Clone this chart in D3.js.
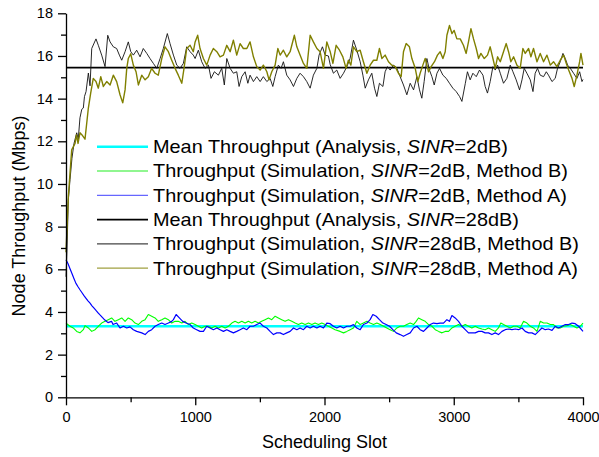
<!DOCTYPE html>
<html>
<head>
<meta charset="utf-8">
<script src="https://cdn.jsdelivr.net/npm/d3@7"></script>
<style>
  body { margin: 0; background: #fff; }
  text { font-family: "Liberation Sans", Arial, sans-serif; fill: #000; }
</style>
</head>
<body>
<div id="chart"></div>
<script>
// valeurs : [slot, débit Mbps]
const meanSinr2 = 3.33;
const meanSinr28 = 15.45;

const simB2 = [[0,3.48],[31,3.33],[56,3.25],[83,3.09],[108,3.02],[134,3.17],[147,3.36],[173,3.25],[199,3.09],[225,3.17],[250,3.33],[276,3.48],[302,3.56],[327,3.64],[353,3.72],[379,3.56],[405,3.64],[431,3.72],[457,3.56],[482,3.72],[508,3.64],[534,3.48],[560,3.41],[586,3.56],[612,3.64],[637,3.88],[663,3.8],[689,3.72],[714,3.56],[741,3.64],[766,3.72],[792,3.64],[818,3.48],[844,3.56],[869,3.56],[896,3.48],[921,3.56],[947,3.41],[973,3.48],[999,3.41],[1024,3.33],[1050,3.25],[1076,3.33],[1102,3.33],[1128,3.25],[1153,3.33],[1179,3.25],[1205,3.33],[1231,3.25],[1257,3.33],[1283,3.48],[1308,3.56],[1334,3.48],[1360,3.56],[1386,3.48],[1411,3.56],[1437,3.48],[1463,3.56],[1489,3.48],[1514,3.56],[1540,3.64],[1566,3.72],[1592,3.64],[1618,3.8],[1643,3.72],[1669,3.64],[1695,3.56],[1721,3.64],[1747,3.56],[1773,3.48],[1798,3.41],[1824,3.48],[1850,3.41],[1876,3.48],[1902,3.41],[1927,3.48],[1953,3.41],[1979,3.48],[2005,3.41],[2030,3.33],[2057,3.25],[2082,3.17],[2121,3.09],[2147,3.02],[2173,3.09],[2198,3.17],[2224,3.25],[2250,3.56],[2276,3.41],[2301,3.48],[2328,3.56],[2353,3.48],[2379,3.41],[2405,3.48],[2431,3.41],[2457,3.33],[2482,3.25],[2508,3.17],[2534,3.09],[2560,3.25],[2585,3.33],[2611,3.33],[2637,3.41],[2663,3.48],[2689,3.41],[2709,3.56],[2727,3.72],[2753,3.64],[2779,3.56],[2805,3.41],[2831,3.33],[2857,3.17],[2883,3.09],[2909,3.02],[2934,3.09],[2960,3.09],[2986,3.25],[3011,3.33],[3037,3.41],[3063,3.33],[3089,3.41],[3114,3.33],[3140,3.25],[3166,3.33],[3192,3.25],[3218,3.2],[3243,3.17],[3269,3.25],[3295,3.17],[3321,3.09],[3346,3.25],[3364,3.48],[3385,3.41],[3411,3.33],[3437,3.25],[3463,3.33],[3489,3.33],[3514,3.25],[3540,3.56],[3566,3.48],[3592,3.33],[3617,3.25],[3644,3.09],[3669,3.56],[3695,3.48],[3721,3.48],[3747,3.41],[3772,3.41],[3798,3.25],[3824,3.25],[3850,3.33],[3876,3.36],[3902,3.41],[3927,3.33],[3953,3.25],[3979,3.33],[4000,3.48]];

const simA2 = [[0,6.45],[15,6.27],[31,6.03],[46,5.8],[62,5.56],[77,5.34],[93,5.18],[108,5.04],[124,4.9],[139,4.77],[155,4.64],[170,4.52],[186,4.41],[201,4.29],[217,4.18],[232,4.07],[248,3.96],[263,3.86],[279,3.76],[294,3.66],[310,3.58],[325,3.5],[352,3.56],[364,3.41],[392,3.48],[418,3.25],[444,3.33],[470,3.25],[495,3.3],[521,3.17],[547,3.09],[586,3.02],[612,2.94],[637,3.09],[663,3.17],[689,3.33],[714,3.41],[741,3.48],[766,3.41],[792,3.48],[818,3.56],[831,3.64],[852,3.88],[877,3.72],[903,3.56],[929,3.48],[960,3.41],[985,3.25],[1011,3.17],[1037,3.09],[1063,3.09],[1089,3.33],[1115,3.25],[1140,3.17],[1167,3.25],[1192,3.17],[1218,3.09],[1244,3.17],[1270,3.09],[1295,3.02],[1321,3.09],[1347,3.17],[1372,3.25],[1399,3.17],[1424,3.33],[1450,3.33],[1476,3.41],[1502,3.48],[1527,3.33],[1554,3.25],[1579,3.09],[1605,2.94],[1631,3.02],[1657,3.02],[1682,2.94],[1708,3.02],[1734,3.09],[1760,3.25],[1786,3.17],[1811,3.25],[1837,3.17],[1863,3.33],[1889,3.25],[1914,3.33],[1941,3.25],[1966,3.33],[1992,3.25],[2018,3.48],[2044,3.45],[2069,3.33],[2095,3.25],[2121,3.33],[2147,3.25],[2173,3.33],[2198,3.33],[2224,3.41],[2250,3.25],[2276,3.17],[2301,3.41],[2328,3.48],[2353,3.64],[2374,3.88],[2400,3.8],[2425,3.64],[2452,3.48],[2477,3.41],[2503,3.33],[2529,3.17],[2555,3.02],[2585,2.94],[2611,2.86],[2637,2.94],[2663,3.02],[2689,3.25],[2715,3.33],[2740,3.17],[2766,3.09],[2792,3.25],[2818,3.41],[2843,3.48],[2870,3.45],[2895,3.48],[2921,3.48],[2947,3.64],[2967,3.56],[2986,3.83],[3011,3.72],[3037,3.56],[3063,3.33],[3089,3.17],[3114,3.02],[3140,3.02],[3166,3.02],[3192,3.09],[3218,3.09],[3243,3.02],[3269,3.02],[3295,2.94],[3321,3.02],[3346,2.94],[3373,3.09],[3398,3.17],[3424,3.2],[3450,3.17],[3476,3.2],[3501,3.17],[3528,3.25],[3553,3.09],[3579,3.02],[3605,3.02],[3630,2.94],[3656,3.09],[3682,3.25],[3708,3.17],[3733,3.2],[3760,3.14],[3785,3.33],[3811,3.25],[3837,3.33],[3863,3.41],[3889,3.41],[3915,3.48],[3940,3.45],[3966,3.33],[4000,3.09]];

const simB28 = [[0,5.65],[8,7.0],[18,9.25],[31,10.2],[46,11.2],[62,11.9],[83,12.4],[95,12.1],[108,13.1],[122,13.5],[134,13.56],[143,14.1],[155,14.33],[173,15.2],[186,14.6],[199,16.35],[232,16.8],[250,16.5],[276,16.04],[302,15.5],[323,16.97],[341,16.66],[366,16.43],[392,16.35],[413,16.04],[431,15.8],[457,16.2],[482,16.66],[501,16.2],[521,16.04],[547,16.27],[573,15.96],[598,16.35],[625,16.12],[650,15.88],[676,15.65],[702,15.42],[728,15.88],[753,16.35],[784,17.05],[805,16.58],[831,16.04],[857,15.57],[882,15.42],[908,15.65],[934,16.43],[960,16.2],[985,16.04],[999,15.88],[1024,16.27],[1050,15.73],[1076,15.42],[1102,15.57],[1122,14.95],[1148,15.26],[1179,15.1],[1205,15.42],[1225,14.64],[1244,15.88],[1270,15.42],[1295,15.19],[1321,15.26],[1339,14.57],[1360,15.03],[1386,15.26],[1407,14.72],[1424,15.1],[1450,14.8],[1476,15.03],[1502,14.8],[1527,15.03],[1554,14.8],[1579,14.95],[1600,14.57],[1618,15.03],[1643,15.57],[1664,15.42],[1682,15.73],[1708,15.1],[1734,14.88],[1760,14.57],[1786,14.95],[1811,15.19],[1837,15.03],[1863,14.8],[1889,14.49],[1914,15.1],[1941,15.42],[1958,16.04],[1984,16.43],[2005,16.04],[2030,16.0],[2044,15.6],[2069,15.19],[2095,15.34],[2121,14.95],[2147,15.19],[2173,15.5],[2198,15.88],[2224,16.74],[2250,16.27],[2276,15.73],[2297,15.1],[2315,14.49],[2340,14.88],[2366,15.19],[2387,14.49],[2405,14.1],[2425,14.72],[2452,14.57],[2469,15.26],[2487,15.5],[2508,15.34],[2534,15.57],[2560,15.42],[2585,15.03],[2611,14.64],[2637,14.18],[2663,14.72],[2689,14.41],[2715,15.03],[2735,14.41],[2753,14.02],[2771,14.8],[2792,15.88],[2812,15.34],[2831,15.03],[2849,14.64],[2870,15.19],[2890,15.42],[2916,15.1],[2942,14.95],[2967,14.72],[2993,14.49],[3019,14.33],[3045,14.1],[3063,13.87],[3089,14.7],[3106,15.26],[3127,14.88],[3148,15.19],[3174,15.03],[3199,15.34],[3226,15.1],[3243,14.57],[3261,14.26],[3282,14.8],[3303,15.5],[3321,15.34],[3339,15.57],[3360,15.19],[3385,14.72],[3411,14.95],[3437,15.57],[3458,15.26],[3483,14.88],[3509,14.41],[3528,14.88],[3545,15.42],[3566,15.19],[3592,14.88],[3613,14.33],[3630,15.19],[3648,15.42],[3669,15.1],[3695,15.03],[3716,15.26],[3733,15.1],[3760,14.8],[3785,14.95],[3803,15.42],[3824,15.73],[3845,16.12],[3863,15.88],[3881,15.57],[3902,15.42],[3927,15.19],[3953,14.95],[3974,15.26],[3992,14.8],[4000,14.9]];

const simA28 = [[0,6.8],[18,9.4],[44,11.6],[70,11.9],[81,12.3],[93,11.9],[108,12.4],[124,12.3],[147,12.1],[163,13.0],[173,13.56],[191,14.26],[211,14.95],[232,14.8],[250,14.49],[269,15.03],[289,14.57],[315,14.8],[341,14.64],[366,15.1],[392,14.8],[418,14.18],[439,13.8],[457,14.41],[470,15.42],[482,15.88],[501,16.1],[521,15.57],[542,15.26],[560,14.64],[586,15.1],[612,14.88],[637,15.03],[663,15.42],[689,15.19],[714,15.1],[741,15.88],[766,16.43],[792,16.2],[818,15.8],[844,15.42],[869,15.1],[896,14.72],[913,15.42],[934,16.35],[960,16.5],[985,16.2],[999,16.66],[1019,16.97],[1037,16.35],[1063,15.88],[1089,15.57],[1115,16.04],[1140,16.35],[1167,16.2],[1192,15.96],[1218,16.04],[1244,16.5],[1270,16.2],[1295,16.74],[1321,16.04],[1347,16.58],[1372,16.35],[1399,16.35],[1424,16.66],[1450,15.96],[1476,15.5],[1502,15.34],[1527,15.57],[1554,15.26],[1571,14.88],[1592,15.26],[1618,15.57],[1639,16.35],[1657,16.04],[1682,16.27],[1708,15.96],[1734,16.2],[1767,16.97],[1786,16.43],[1811,16.04],[1837,15.65],[1863,15.42],[1889,16.97],[1914,16.66],[1941,16.35],[1966,16.2],[1992,15.42],[2018,16.66],[2044,16.2],[2065,15.65],[2090,16.5],[2116,16.27],[2142,15.96],[2167,15.42],[2185,15.8],[2204,15.57],[2224,16.43],[2250,16.2],[2276,16.27],[2301,15.73],[2328,15.19],[2353,15.57],[2379,15.8],[2405,15.8],[2425,16.35],[2444,15.88],[2469,16.04],[2495,15.73],[2521,15.57],[2547,15.5],[2572,15.19],[2593,15.03],[2611,16.2],[2632,16.58],[2657,16.43],[2676,15.88],[2702,15.42],[2722,14.8],[2740,15.19],[2761,15.57],[2779,15.88],[2805,15.26],[2825,15.5],[2851,15.73],[2874,16.04],[2895,16.2],[2916,15.88],[2934,16.2],[2947,16.97],[2967,17.43],[2986,17.05],[3003,17.2],[3024,16.8],[3050,16.8],[3075,16.5],[3096,16.12],[3114,16.66],[3133,17.28],[3153,16.8],[3174,16.35],[3192,15.88],[3210,16.12],[3236,15.88],[3261,16.04],[3282,16.43],[3303,15.88],[3321,15.42],[3339,15.96],[3360,15.73],[3385,16.2],[3406,16.58],[3424,16.2],[3442,15.73],[3463,15.96],[3489,15.57],[3514,15.42],[3535,16.35],[3553,16.12],[3579,16.35],[3597,15.96],[3617,16.35],[3644,15.73],[3669,16.12],[3695,15.73],[3721,16.04],[3747,15.57],[3772,15.73],[3798,15.5],[3824,15.8],[3850,16.04],[3871,15.65],[3889,15.34],[3915,14.95],[3932,14.57],[3953,15.1],[3974,15.73],[3984,16.12],[4000,15.57]];

const xMajorTicks = [0, 1000, 2000, 3000, 4000];
const xMinorTicks = [500, 1500, 2500, 3500];
const yMajorTicks = [0, 2, 4, 6, 8, 10, 12, 14, 16, 18];
const yMinorTicks = [1, 3, 5, 7, 9, 11, 13, 15, 17];

// légende : texte avant SINR, texte après
const legendLabels = [
    ["Mean Throughput (Analysis, ", "=2dB)"],
    ["Throughput (Simulation, ", "=2dB, Method B)"],
    ["Throughput (Simulation, ", "=2dB, Method A)"],
    ["Mean Throughput (Analysis, ", "=28dB)"],
    ["Throughput (Simulation, ", "=28dB, Method B)"],
    ["Throughput (Simulation, ", "=28dB, Method A)"]
];

const width = 599, height = 457;
const plot = { left: 66, right: 583, top: 13.3, bottom: 397.3 };

const svg = d3.select("#chart").append("svg")
    .attr("width", width)
    .attr("height", height);

const x = d3.scaleLinear().domain([0, 4000]).range([plot.left, plot.right]);
const y = d3.scaleLinear().domain([0, 18]).range([plot.bottom, plot.top]);

// séries (même ordre que la légende)
const series = [
    { data: [[0, meanSinr2], [4000, meanSinr2]], color: "#00ffff", w: 2.6 },
    { data: simB2, color: "#00ff00", w: 1.1 },
    { data: simA2, color: "#0000ff", w: 1.2 },
    { data: [[0, meanSinr28], [4000, meanSinr28]], color: "#000000", w: 1.8 },
    { data: simB28, color: "#111111", w: 0.9 },
    { data: simA28, color: "#808000", w: 1.4 }
];
const legendStroke = ["#00ffff", "#22ee22", "#6666ff", "#000000", "#444444", "#a0a040"];

const line = d3.line().x(d => x(d[0])).y(d => y(d[1]));

svg.append("g")
    .selectAll("path")
    .data(series)
    .join("path")
    .attr("d", d => line(d.data))
    .attr("fill", "none")
    .attr("stroke", d => d.color)
    .attr("stroke-width", d => d.w)
    .attr("stroke-linejoin", "round");

// axes
const fontAxis = "14.5px";

svg.append("g")
    .attr("transform", `translate(0,${plot.bottom})`)
    .call(d3.axisBottom(x).tickValues(xMinorTicks).tickSize(5).tickFormat(""))
    .call(g => g.select(".domain").remove());

svg.append("g")
    .attr("transform", `translate(0,${plot.bottom})`)
    .call(d3.axisBottom(x).tickValues(xMajorTicks).tickSize(8).tickPadding(6)
        .tickSizeOuter(0).tickFormat(d3.format("d")))
    .call(g => g.selectAll("text").style("font-size", fontAxis).attr("font-family", null));

svg.append("g")
    .attr("transform", `translate(${plot.left},0)`)
    .call(d3.axisLeft(y).tickValues(yMinorTicks).tickSize(5).tickFormat(""))
    .call(g => g.select(".domain").remove());

svg.append("g")
    .attr("transform", `translate(${plot.left},0)`)
    .call(d3.axisLeft(y).tickValues(yMajorTicks).tickSize(8).tickPadding(5).tickSizeOuter(0))
    .call(g => g.selectAll("text").style("font-size", fontAxis).attr("font-family", null));

svg.selectAll(".domain, .tick line").attr("stroke", "#000").attr("stroke-width", 1.3);

// titres des axes
svg.append("text")
    .attr("x", (plot.left + plot.right) / 2)
    .attr("y", 448)
    .attr("text-anchor", "middle")
    .style("font-size", "18px")
    .text("Scheduling Slot");

svg.append("text")
    .attr("transform", "translate(25,216) rotate(-90)")
    .attr("text-anchor", "middle")
    .style("font-size", "18px")
    .text("Node Throughput (Mbps)");

// légende (texte un peu étiré en largeur comme l'original)
const legend = svg.append("g");
const legendTexts = [];
legendLabels.forEach((lab, i) => {
    const cy = 146.7 + i * 24.3;
    legend.append("line")
        .attr("x1", 97).attr("x2", 148)
        .attr("y1", cy).attr("y2", cy)
        .attr("stroke", legendStroke[i])
        .attr("stroke-width", i === 0 ? 2.6 : (i === 3 ? 1.8 : 1.2));
    const t = legend.append("text")
        .attr("transform", `translate(153,${cy + 6.3})`)
        .style("font-size", "17.7px");
    t.append("tspan").text(lab[0]);
    t.append("tspan").style("font-style", "italic").text("SINR");
    t.append("tspan").text(lab[1]);
    legendTexts.push(t);
});
const longest = d3.max(legendTexts, t => t.node().getComputedTextLength());
const stretch = 426 / longest;
legendTexts.forEach((t, i) => {
    const cy = 146.7 + i * 24.3;
    t.attr("transform", `translate(153,${cy + 6.3}) scale(${stretch},1)`);
});
</script>
</body>
</html>
